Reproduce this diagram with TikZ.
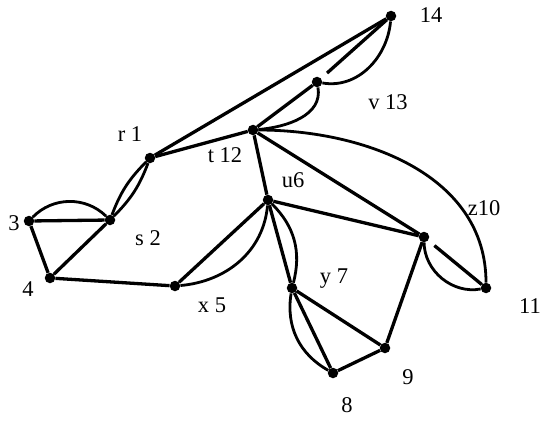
\documentclass[tikz,border=0pt]{standalone}
\usepackage{fontspec}
\setmainfont{Liberation Serif}
\begin{document}
\begin{tikzpicture}[x=1pt,y=1pt,
  vtx/.style={circle,fill=black,inner sep=0pt,minimum size=10.5pt},
  lbl/.style={font=\fontsize{22.5}{22.5}\selectfont,inner sep=0pt},
  edge/.style={line width=3.3pt},
  arcedge/.style={line width=2.8pt}]
\useasboundingbox (0,0) rectangle (545,-422);
% vertices
\node[vtx] (n14) at (391,-16) {};
\node[vtx] (v13) at (317,-82) {};
\node[vtx] (t12) at (253,-130) {};
\node[vtx] (r1)  at (150,-158) {};
\node[vtx] (s2)  at (110,-220) {};
\node[vtx] (n3)  at (29,-221) {};
\node[vtx] (n4)  at (50,-278) {};
\node[vtx] (x5)  at (175,-286) {};
\node[vtx] (u6)  at (268,-200) {};
\node[vtx] (y7)  at (292,-288) {};
\node[vtx] (n8)  at (333,-373) {};
\node[vtx] (n9)  at (385,-348) {};
\node[vtx] (z10) at (424,-237) {};
\node[vtx] (n11) at (486,-288) {};
% labels
\node[lbl] (l14) at (431,-15) {14};
\node[lbl] (l13) at (388,-102) {v 13};
\node[lbl] (l12) at (225,-155) {t 12};
\node[lbl] (l1)  at (130,-134) {r 1};
\node[lbl] (l2)  at (148,-238) {s 2};
\node[lbl] (l3)  at (14,-223) {3};
\node[lbl] (l4)  at (28,-289) {4};
\node[lbl] (l5)  at (212,-305) {x 5};
\node[lbl] (l6)  at (293,-180) {u6};
\node[lbl] (l7)  at (334,-279) {y 7};
\node[lbl] (l8)  at (347,-405) {8};
\node[lbl] (l9)  at (408,-377) {9};
\node[lbl] (l10) at (484,-208) {z10};
\node[lbl] (l11) at (530,-306) {11};
% straight edges
\draw[edge] (n3) -- (s2);
\draw[edge] (n3) -- (n4);
\draw[edge] (n4) -- (s2);
\draw[edge] (n4) -- (x5);
\draw[edge] (r1) -- (n14);
\draw[edge] (r1) -- (t12);
\draw[edge] (t12) -- (v13);
\draw[edge,shorten >=8pt] (n14) -- (v13);
\draw[edge] (t12) -- (u6);
\draw[edge] (t12) -- (z10);
\draw[edge] (u6) -- (z10);
\draw[edge] (u6) -- (x5);
\draw[edge] (u6) -- (y7);
\draw[edge] (y7) -- (n8);
\draw[edge] (y7) -- (n9);
\draw[edge] (n8) -- (n9);
\draw[edge] (z10) -- (n9);
\draw[edge,shorten <=8pt] (z10) -- (n11);
% curved edges
\draw[arcedge] (n3) to[bend left=45] (s2);
\draw[arcedge] (s2) to[bend left=12] (r1);
\draw[arcedge] (s2) to[bend right=12] (r1);
\draw[arcedge] (v13) to[out=-10,in=-95] (n14);
\draw[arcedge] (t12) to[out=5,in=-80] (v13);
\draw[arcedge] (t12) to[out=0,in=90] (n11);
\draw[arcedge] (u6) to[out=-95,in=5] (x5);
\draw[arcedge] (u6) to[bend left=30] (y7);
\draw[arcedge] (y7) to[bend right=35] (n8);
\draw[arcedge] (z10) to[bend right=50] (n11);
\end{tikzpicture}
\end{document}
